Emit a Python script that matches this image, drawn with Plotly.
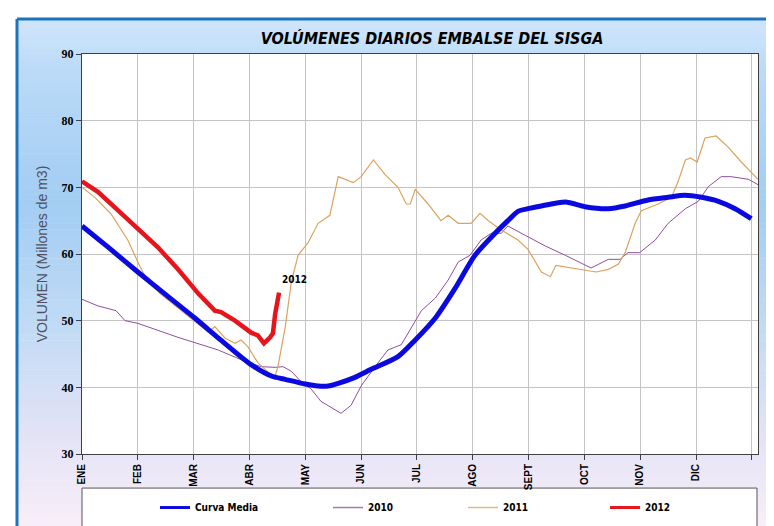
import plotly.graph_objects as go

# --- datos (x en meses desde ENE, valores en millones de m3) ---
meses = ["ENE", "FEB", "MAR", "ABR", "MAY", "JUN", "JUL", "AGO", "SEPT", "OCT", "NOV", "DIC", ""]

media_x = [0, 0.5, 1.0, 1.5, 2.02, 2.5, 3.03, 3.39, 3.64, 4.0, 4.23, 4.41, 4.59, 4.89, 5.18,
           5.66, 5.97, 6.33, 6.68, 7.04, 7.4, 7.63, 7.81, 7.99, 8.23, 8.66, 9.01, 9.43, 9.73,
           10.14, 10.5, 10.8, 11.1, 11.4, 11.7, 11.99]
media_y = [64.2, 60.8, 57.3, 53.9, 50.4, 47.0, 43.4, 41.7, 41.2, 40.5, 40.2, 40.2, 40.6, 41.5, 42.7,
           44.6, 47.1, 50.4, 54.8, 59.8, 63.1, 65.0, 66.4, 66.8, 67.2, 67.8, 67.1, 66.8, 67.2,
           68.1, 68.5, 68.8, 68.5, 67.9, 66.8, 65.3]

y2010_x = [0, 0.29, 0.61, 0.77, 1.0, 1.72, 2.44, 2.92, 3.21, 3.46, 3.6, 3.75, 3.92, 4.1, 4.28,
           4.64, 4.82, 5.0, 5.25, 5.48, 5.72, 5.9, 6.08, 6.33, 6.56, 6.74, 6.95, 7.15, 7.33, 7.51,
           7.63, 7.94, 8.3, 8.66, 9.12, 9.43, 9.64, 9.78, 9.99, 10.27, 10.5, 10.81, 11.04, 11.22,
           11.45, 11.63, 11.94, 12.11]
y2010_y = [53.2, 52.2, 51.5, 50.0, 49.6, 47.5, 45.6, 43.9, 43.1, 43.0, 43.1, 42.4, 40.9, 39.8, 37.9,
           36.1, 37.3, 40.2, 43.1, 45.6, 46.4, 49.0, 51.5, 53.4, 56.1, 58.8, 59.8, 62.1, 63.1, 63.1,
           64.2, 62.8, 61.2, 59.8, 57.9, 59.2, 59.2, 60.2, 60.2, 62.1, 64.6, 66.8, 67.9, 70.1,
           71.6, 71.6, 71.2, 70.4]

y2011_x = [0, 0.23, 0.52, 0.82, 1.0, 1.18, 1.42, 1.72, 2.02, 2.26, 2.38, 2.56, 2.74, 2.85, 2.97,
           3.15, 3.33, 3.46, 3.51, 3.64, 3.75, 3.87, 4.05, 4.23, 4.44, 4.59, 4.86, 5.0, 5.22, 5.43,
           5.66, 5.81, 5.88, 5.97, 6.2, 6.43, 6.56, 6.74, 6.97, 7.13, 7.28, 7.51, 7.81, 7.99, 8.23,
           8.39, 8.49, 8.71, 8.94, 9.21, 9.43, 9.61, 9.73, 9.91, 10.02, 10.32, 10.56, 10.68, 10.81,
           10.9, 11.02, 11.16, 11.36, 11.58, 11.81, 12.06, 12.11]
y2011_y = [70.0, 68.5, 66.0, 62.1, 58.8, 55.8, 53.9, 51.9, 50.0, 48.3, 49.1, 47.4, 46.6, 47.1, 46.1,
           43.7, 42.3, 41.7, 43.1, 49.0, 55.8, 59.8, 61.7, 64.6, 65.8, 71.6, 70.7, 71.6, 74.1, 71.9,
           70.0, 67.5, 67.5, 69.7, 67.5, 65.0, 65.8, 64.6, 64.6, 66.1, 65.0, 63.6, 62.1, 60.7, 57.3,
           56.6, 58.3, 58.0, 57.6, 57.3, 57.7, 58.5, 60.2, 64.6, 66.5, 67.5, 68.5, 70.9, 74.1,
           74.4, 73.8, 77.4, 77.7, 76.0, 73.8, 71.5, 71.2]

y2012_x = [0, 0.29, 0.65, 1.0, 1.36, 1.72, 2.08, 2.38, 2.49, 2.74, 3.03, 3.15, 3.26, 3.37, 3.42,
           3.46, 3.53]
y2012_y = [70.9, 69.3, 66.5, 63.9, 61.0, 57.7, 54.1, 51.5, 51.3, 50.0, 48.2, 47.8, 46.6, 47.5, 48.1,
           51.0, 54.2]

# --- geometria en pixeles ---
W, H = 774, 526
L, R, T, B = 74, 750, 46, 457


def px2x(px):
    return (px - L) / (R - L)


def py2y(py):
    return (B - py) / (B - T)


def mix(c1, c2, t):
    a = [int(c1[i:i + 2], 16) for i in (1, 3, 5)]
    b = [int(c2[i:i + 2], 16) for i in (1, 3, 5)]
    return "rgb(%d,%d,%d)" % tuple(round(a[k] + (b[k] - a[k]) * t) for k in range(3))


stops = [(10, "#cfe5fb"), (70, "#b9d9f7"), (200, "#a3cdf3"), (330, "#c2dbf5"),
         (440, "#e4e3f6"), (530, "#f8eef8")]

shapes = []
y = 10
step = 6
while y < 530:
    yc = y + step / 2
    for (a, ca), (b, cb) in zip(stops[:-1], stops[1:]):
        if a <= yc <= b:
            col = mix(ca, cb, (yc - a) / (b - a))
            break
    else:
        col = stops[-1][1]
    shapes.append(dict(type="rect", xref="paper", yref="paper", layer="below",
                       x0=px2x(9), x1=px2x(780), y0=py2y(y + step + 0.5), y1=py2y(y),
                       fillcolor=col, line=dict(width=0)))
    y += step

# marco azul (arriba e izquierda)
shapes.append(dict(type="line", xref="paper", yref="paper", layer="below",
                   x0=px2x(9), x1=px2x(780), y0=py2y(10), y1=py2y(10),
                   line=dict(color="#1c74bc", width=3)))
shapes.append(dict(type="line", xref="paper", yref="paper", layer="below",
                   x0=px2x(9), x1=px2x(9), y0=py2y(10), y1=py2y(540),
                   line=dict(color="#1c74bc", width=3)))
# area de trazado blanca
shapes.append(dict(type="rect", xref="paper", yref="paper", layer="below",
                   x0=0, x1=1, y0=0, y1=1, fillcolor="white", line=dict(width=0)))
# caja de leyenda
shapes.append(dict(type="rect", xref="paper", yref="paper", layer="below",
                   x0=px2x(74), x1=px2x(749), y0=py2y(540), y1=py2y(492),
                   fillcolor="white", line=dict(color="#555555", width=1)))

fig = go.Figure()
fig.add_trace(go.Scatter(x=y2010_x, y=y2010_y, mode="lines", name="2010", showlegend=False,
                         line=dict(color="#8e4f9e", width=1)))
fig.add_trace(go.Scatter(x=y2011_x, y=y2011_y, mode="lines", name="2011", showlegend=False,
                         line=dict(color="#dca35e", width=1.2)))
fig.add_trace(go.Scatter(x=media_x, y=media_y, mode="lines", name="Curva Media", showlegend=False,
                         line=dict(color="#0a0ae0", width=5, shape="spline", smoothing=0.7)))
fig.add_trace(go.Scatter(x=y2012_x, y=y2012_y, mode="lines", name="2012", showlegend=False,
                         line=dict(color="#e8141c", width=4.5)))

# entradas de leyenda (lineas mas finas, como en la leyenda de Excel)
leyenda = [("Curva Media", "#0a0ae0", 3, "legend"), ("2010", "#a07ab4", 1.5, "legend2"),
           ("2011", "#d9bc8a", 1.5, "legend3"), ("2012", "#e8141c", 3, "legend4")]
for nombre, color, ancho, leg in leyenda:
    fig.add_trace(go.Scatter(x=[None], y=[None], mode="lines", name=nombre, showlegend=True,
                             line=dict(color=color, width=ancho), legend=leg))

leg_font = dict(family="DejaVu Sans Condensed, Liberation Sans", size=10, color="black", weight="bold")
leg_common = dict(orientation="h", yanchor="middle", xanchor="left", bgcolor="rgba(0,0,0,0)",
                  font=leg_font, itemwidth=30, visible=True)

fig.update_layout(
    width=W, height=H,
    showlegend=True,
    margin=dict(l=L, r=W - R, t=T, b=H - B),
    paper_bgcolor="white",
    plot_bgcolor="white",
    shapes=shapes,
    title=dict(text="<b><i>VOLÚMENES DIARIOS EMBALSE DEL SISGA</i></b>",
               x=424 / W, xanchor="center", y=1 - 30 / H, yanchor="middle",
               font=dict(family="DejaVu Sans Condensed, Liberation Sans", size=16, color="black")),
    xaxis=dict(range=[0, 12.11], tickvals=list(range(13)), ticktext=meses,
               tickangle=-90, tickfont=dict(family="Liberation Sans", size=10, color="black", weight="bold"),
               showgrid=True, gridcolor="#c4c4c4", gridwidth=1,
               showline=True, linecolor="#404040", linewidth=1, mirror=True,
               ticks="outside", ticklen=5, tickcolor="#404040", zeroline=False),
    yaxis=dict(range=[30, 90], dtick=10,
               tickfont=dict(family="Liberation Serif", size=12, color="black", weight="bold"),
               showgrid=True, gridcolor="#c4c4c4", gridwidth=1,
               showline=True, linecolor="#404040", linewidth=1, mirror=True,
               ticks="outside", ticklen=5, tickcolor="#404040", zeroline=False,
               title=dict(text="VOLUMEN (Millones de m3)", standoff=10,
                          font=dict(family="Liberation Sans", size=14, color="#505060"))),
    legend=dict(x=px2x(147), y=py2y(512), **leg_common),
    legend2=dict(x=px2x(320), y=py2y(512), **leg_common),
    legend3=dict(x=px2x(455), y=py2y(512), **leg_common),
    legend4=dict(x=px2x(597), y=py2y(512), **leg_common),
    annotations=[dict(x=y2012_x[-1], y=y2012_y[-1], xref="x", yref="y", text="<b>2012</b>",
                      showarrow=False, xanchor="left", yanchor="bottom", xshift=1, yshift=6,
                      font=dict(family="DejaVu Sans Condensed, Liberation Sans", size=10, color="black"))],
)

fig.write_html("out.html")
